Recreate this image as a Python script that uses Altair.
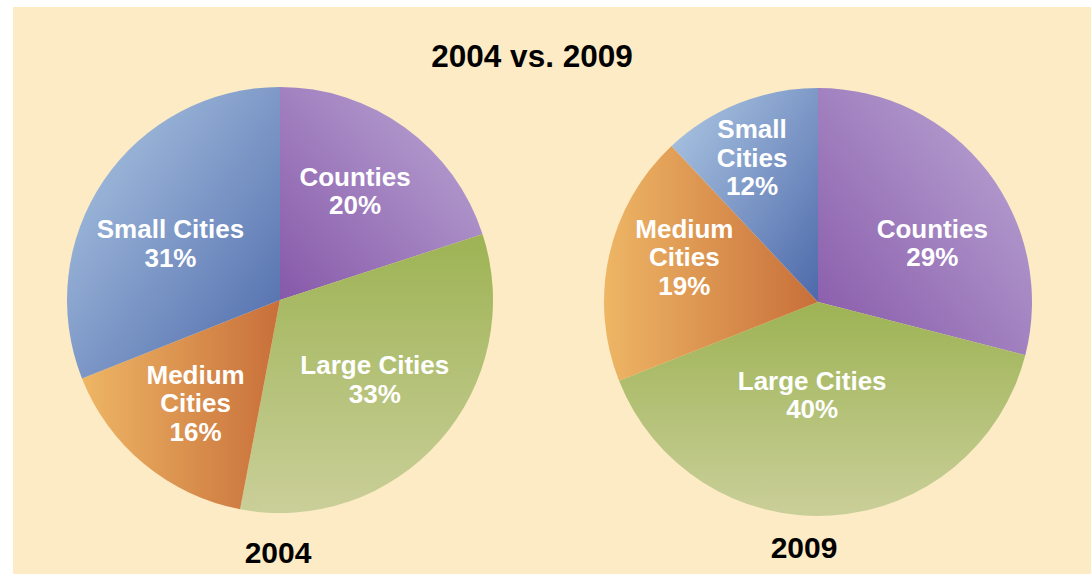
import altair as alt
import pandas as pd

# ---- data ----
categories = ["Counties", "Large Cities", "Medium Cities", "Small Cities"]
share_2004 = [20, 33, 16, 31]
share_2009 = [29, 40, 19, 12]
labels_2004 = ["Counties", "Large Cities", "Medium\nCities", "Small Cities"]
labels_2009 = ["Counties", "Large Cities", "Medium\nCities", "Small\nCities"]
years = [2004, 2009]
title_text = "2004 vs. 2009"

rows = []
for yr, vals, labs in [(2004, share_2004, labels_2004), (2009, share_2009, labels_2009)]:
    for i, (c, v, l) in enumerate(zip(categories, vals, labs)):
        rows.append({"year": yr, "category": c, "order": i, "value": v, "label": l})
df = pd.DataFrame(rows)

# ---- styling ----
FONT = "Liberation Sans"
BG = "#FCEBC4"
LH = 28.5
# (color at start, color at end, x1, y1, x2, y2) in slice bounding-box units
grad = {
    "Counties": ("#8758A9", "#BCAAD6", 0, 1, 1, 0),
    "Large Cities": ("#9DB354", "#CACF99", 0.5, 0, 0.5, 1),
    "Medium Cities": ("#EEB665", "#C86F3A", 0, 0.5, 1, 0.5),
    "Small Cities": ("#B0CAE5", "#4D69AA", 0, 0, 1, 1),
}
centers = {2004: (280, 300), 2009: (818, 302)}
radii = {2004: 213, 2009: 214}
# polar distance of each label from its pie centre, plus a small nudge
label_radius = {
    (2004, "Counties"): 131, (2004, "Large Cities"): 125,
    (2004, "Medium Cities"): 134, (2004, "Small Cities"): 124,
    (2009, "Counties"): 132, (2009, "Large Cities"): 98,
    (2009, "Medium Cities"): 140, (2009, "Small Cities"): 152,
}
label_nudge = {
    (2004, "Counties"): (-2, -2), (2004, "Large Cities"): (1, -2),
    (2004, "Medium Cities"): (1, 1), (2004, "Small Cities"): (-7, 14),
    (2009, "Counties"): (10, 23), (2009, "Large Cities"): (-12, -4),
    (2009, "Medium Cities"): (3, -13), (2009, "Small Cities"): (-10, -2),
}
label_lines = {}
for yr, labs in [(2004, labels_2004), (2009, labels_2009)]:
    for c, l in zip(categories, labs):
        label_lines[(yr, c)] = l.count("\n") + 2

theta_scale = alt.Scale(domain=[0, 100])

base = (
    alt.Chart(df)
    .transform_window(cum="sum(value)", frame=[None, 0],
                      sort=[alt.SortField("order")], groupby=["year"])
    .transform_calculate(start="datum.cum - datum.value",
                         mid="datum.cum - datum.value / 2",
                         text="datum.label + '\\n' + datum.value + '%'")
)

layers = []
bg = alt.Chart(pd.DataFrame({"t": [title_text]})).mark_rect(color=BG).encode(
    x=alt.value(13), x2=alt.value(1091), y=alt.value(7), y2=alt.value(574))
layers.append(bg)

for yr in years:
    cx, cy = centers[yr]
    for c in categories:
        c0, c1, x1, y1, x2, y2 = grad[c]
        g = alt.Gradient(gradient="linear",
                         stops=[alt.GradientStop(color=c0, offset=0),
                                alt.GradientStop(color=c1, offset=1)],
                         x1=x1, y1=y1, x2=x2, y2=y2)
        sl = base.transform_filter(
            f"datum.year == {yr} && datum.category == '{c}'")
        arc = sl.mark_arc(radius=radii[yr], fill=g).encode(
            theta=alt.Theta("start:Q", scale=theta_scale),
            theta2="cum:Q",
            x=alt.value(cx), y=alt.value(cy))
        ndx, ndy = label_nudge[(yr, c)]
        n = label_lines[(yr, c)]
        txt = sl.mark_text(font=FONT, fontSize=26, fontWeight="bold",
                           color="white", lineBreak="\n", lineHeight=LH,
                           align="center", baseline="middle",
                           dx=ndx, dy=ndy - (n - 1) * LH / 2).encode(
            theta=alt.Theta("mid:Q", scale=theta_scale, stack=False),
            radius=alt.value(label_radius[(yr, c)]),
            text="text:N",
            x=alt.value(cx), y=alt.value(cy))
        layers += [arc, txt]

title = alt.Chart(pd.DataFrame({"t": [title_text]})).mark_text(
    font=FONT, fontSize=31.5, fontWeight="bold", color="black",
    align="center", baseline="alphabetic").encode(
    text="t:N", x=alt.value(532), y=alt.value(67))
layers.append(title)

yl = pd.DataFrame({"t": [str(y) for y in years]})
for yr, (x, y) in zip(years, [(278, 563), (804, 558)]):
    layers.append(
        alt.Chart(yl).transform_filter(f"datum.t == '{yr}'").mark_text(
            font=FONT, fontSize=30, fontWeight="bold", color="black",
            align="center", baseline="alphabetic").encode(
            text="t:N", x=alt.value(x), y=alt.value(y)))

chart = alt.layer(*layers).properties(
    width=1091, height=574, padding=0,
    autosize=alt.AutoSizeParams(type="none"),
    background="white",
).configure_view(strokeWidth=0)

chart.save("out.html", embed_options={"renderer": "svg", "actions": False})
